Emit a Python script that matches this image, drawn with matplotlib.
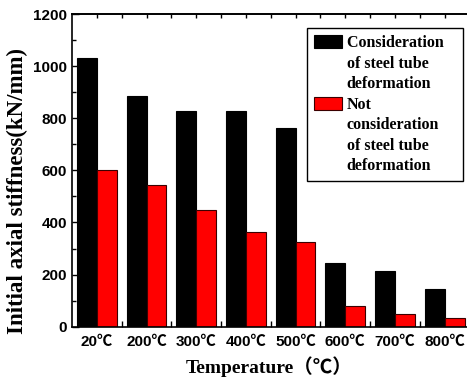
import numpy as np
import matplotlib
matplotlib.use("Agg")
import matplotlib.pyplot as plt
from matplotlib.patches import Rectangle
from matplotlib.ticker import MultipleLocator, FixedLocator

temps = ["20℃", "200℃", "300℃", "400℃", "500℃", "600℃", "700℃", "800℃"]
with_tube = [1032, 885, 829, 829, 764, 243, 215, 145]
without_tube = [601, 542, 448, 365, 324, 79, 49, 35]

sans = ["Liberation Sans", "Noto Sans CJK SC", "DejaVu Sans"]
serif = ["Liberation Serif", "Noto Sans CJK SC", "DejaVu Serif"]

fig = plt.figure(figsize=(4.67, 3.83), dpi=100)
ax = fig.add_axes([0.1542, 0.147, 0.8512, 0.8164])

x = np.arange(len(temps))
w = 0.4
b1 = ax.bar(x - w / 2, with_tube, w, color="black", edgecolor="black", linewidth=0.8)
b2 = ax.bar(x + w / 2, without_tube, w, color="#ff0000", edgecolor="#3a0000", linewidth=0.8)

ax.set_xlim(-0.5, 7.5)
ax.set_ylim(0, 1200)
ax.yaxis.set_major_locator(MultipleLocator(200))
ax.yaxis.set_minor_locator(MultipleLocator(100))
ax.set_xticks(x)
ax.set_xticklabels(temps)
ax.xaxis.set_minor_locator(FixedLocator(x[:-1] + 0.5))

ax.tick_params(axis="y", which="both", direction="in", left=True, right=False)
ax.tick_params(axis="y", which="major", length=5, width=1)
ax.tick_params(axis="y", which="minor", length=3, width=1)
ax.tick_params(axis="x", which="major", direction="in", length=0, pad=6)
ax.tick_params(axis="x", which="minor", direction="in", length=4, width=1, top=False)
ax.tick_params(axis="both", which="major", labelsize=11)

# ticks along the top edge
top = ax.secondary_xaxis("top")
top.set_xticks(np.arange(0, 8, 0.5))
top.tick_params(direction="in", length=3, width=1, labeltop=False)
top.spines["top"].set_linewidth(1.2)

for lab in ax.get_xticklabels() + ax.get_yticklabels():
    lab.set_family(sans)
    lab.set_fontweight("bold")

for s in ["left", "bottom", "top", "right"]:
    ax.spines[s].set_linewidth(1.2)

ax.set_ylabel("Initial axial stiffness(kN/mm)", family=serif, fontweight="bold",
              fontsize=16.5, va="center")
ax.yaxis.set_label_coords(-0.138, 0.435)
ax.set_xlabel("Temperature（℃）", family=serif, fontweight="bold", fontsize=14,
              va="center")
ax.xaxis.set_label_coords(0.495, -0.129)

# one legend row per text line, handle only on the first line of each entry
blank = Rectangle((0, 0), 1, 1, fc="none", ec="none")
handles = [b1, blank, blank, b2, blank, blank, blank]
labels = ["Consideration   ", "of steel tube", "deformation",
          "Not", "consideration", "of steel tube", "deformation"]
leg = ax.legend(handles, labels, loc="upper left",
                bbox_to_anchor=(306.7 / 467, 1 - 28 / 383),
                bbox_transform=fig.transFigure, frameon=True, fancybox=False,
                edgecolor="black", framealpha=1, borderaxespad=0,
                prop={"family": serif, "weight": "bold", "size": 11.5},
                handlelength=1.75, handleheight=0.9, handletextpad=0.3,
                labelspacing=0.27, borderpad=0.45)
leg.get_frame().set_linewidth(1.0)

fig.savefig("out.png", dpi=100)
